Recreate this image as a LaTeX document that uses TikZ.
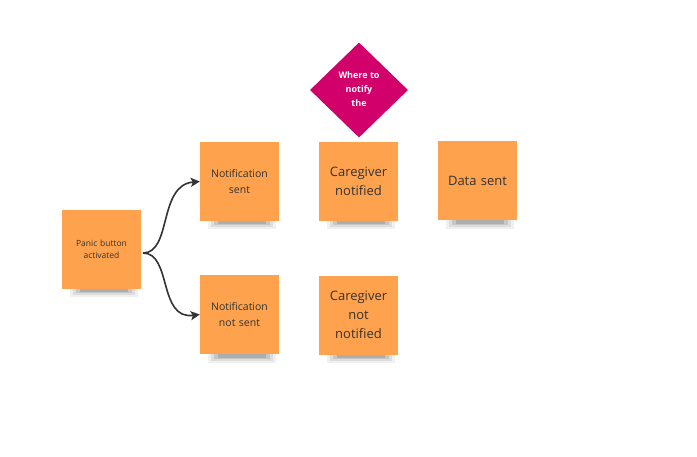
\documentclass[tikz,border=0pt]{standalone}
\usepackage{fontspec}
\setmainfont{Open Sans}
\usetikzlibrary{shapes.geometric,arrows.meta}
\definecolor{sticky}{HTML}{FFA24E}
\definecolor{magenta}{HTML}{D1006B}
\definecolor{ink}{HTML}{333333}
\tikzset{
  note/.style={fill=sticky, minimum width=79pt, minimum height=79pt, inner sep=2pt, align=center, text=ink, text width=72pt},
  flow/.style={draw=ink, line width=1.6pt, -{Stealth[length=9pt,width=9pt,inset=2pt]}},
}
\begin{document}
\begin{tikzpicture}[x=1pt,y=-1pt]
\useasboundingbox (0,0) rectangle (697,456);
\fill[white] (0,0) rectangle (697,456);
% shadows
\foreach \cx/\cy in {101.5/289, 239.5/221, 358.5/221, 477.5/221, 239.5/355, 358.5/355}{
  \fill[black, opacity=0.06] (\cx-32,\cy-2) rectangle (\cx+36,\cy+8);
  \fill[black, opacity=0.08] (\cx-29,\cy-2) rectangle (\cx+33,\cy+6);
  \fill[black, opacity=0.10] (\cx-26,\cy-2) rectangle (\cx+30,\cy+4);
  \fill[black, opacity=0.12] (\cx-22,\cy-2) rectangle (\cx+26,\cy+2.5);
}
\node[note, font=\fontsize{8.5}{12}\selectfont] (panic) at (101.5,249) {Panic button\\activated};
\node[note, font=\fontsize{10.5}{16}\selectfont] (nsent) at (239.5,181.5) {Notification\\sent};
\node[note, font=\fontsize{13}{19}\selectfont] (cnot) at (358.5,181.5) {Caregiver\\notified};
\node[note, font=\fontsize{13}{19}\selectfont] (dsent) at (477.5,180.5) {Data sent};
\node[note, font=\fontsize{10.5}{16}\selectfont] (nnot) at (239.5,314.5) {Notification\\not sent};
\node[note, font=\fontsize{13}{19}\selectfont] (cnn) at (358.5,315) {Caregiver\\not\\notified};
\node[diamond, fill=magenta, minimum width=98pt, minimum height=95pt, inner sep=0pt, aspect=1.03] (where) at (359,90) {};
\node[text=white, align=center, font=\fontsize{9}{14}\selectfont\bfseries] (wheretxt) at (359,89) {Where to\\notify\\the};
\coordinate (src) at (143,253);
\draw[flow] (src) .. controls (172,253) and (158,185) .. (nsent.west);
\draw[flow] (src) .. controls (172,253) and (158,320) .. (nnot.west);
\end{tikzpicture}
\end{document}
